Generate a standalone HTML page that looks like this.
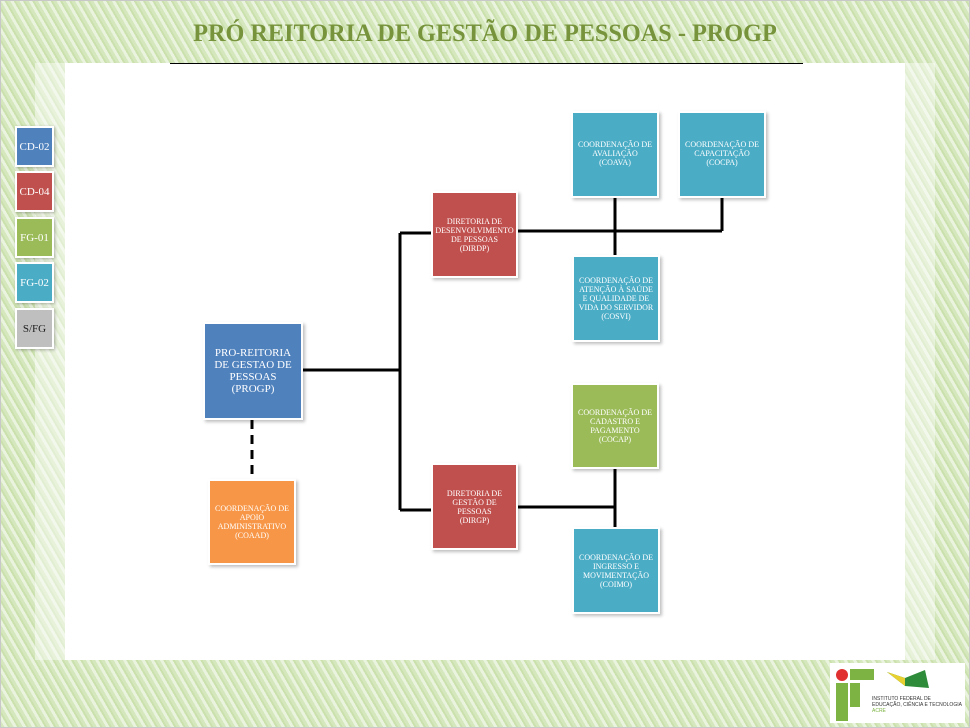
<!DOCTYPE html>
<html><head><meta charset="utf-8"><style>
body{margin:0;width:970px;height:728px;overflow:hidden;font-family:"Liberation Serif",serif;}
#bg{position:absolute;left:0;top:0;width:968px;height:726px;border:1px solid #c8c8c8;
background:repeating-linear-gradient(60deg,#d5e8bd 0 3px,#e9f3dd 3px 6px,#cbe1ad 6px 8px);}
#white{position:absolute;left:65px;top:63px;width:840px;height:597px;background:#fff;}
.fade{position:absolute;background:rgba(255,255,255,0.45);}
.b{position:absolute;color:#fff;display:flex;align-items:center;justify-content:center;text-align:center;
font-size:8px;line-height:9px;box-shadow:0 0 0 2px #fff,2px 2px 3px 2px rgba(0,0,0,0.25);box-sizing:border-box;padding:2px;}
.k{position:absolute;display:flex;align-items:center;justify-content:center;font-size:11px;color:#fff;
box-shadow:0 0 0 2px #fff,1px 1px 3px 2px rgba(0,0,0,0.3);}
.blue{background:#4f81bd}.red{background:#c0504d}.green{background:#9bbb59}.teal{background:#4bacc6}.orange{background:#f79646}
h1{position:absolute;left:0;width:970px;top:20px;margin:0;text-align:center;font-size:25px;color:#77933c;font-weight:bold;transform:scaleX(0.97);}
</style></head><body>
<div id="bg"></div>
<div class="fade" style="left:35px;top:63px;width:30px;height:597px"></div>
<div class="fade" style="left:905px;top:63px;width:30px;height:597px"></div>
<div id="white"></div>
<h1>PRÓ REITORIA DE GESTÃO DE PESSOAS - PROGP</h1>
<div style="position:absolute;left:170px;top:63px;width:633px;height:1px;background:#000"></div>
<svg style="position:absolute;left:0;top:0" width="970" height="728">
<g stroke="#000" stroke-width="3" fill="none">
<path d="M301 370H400M400 233V510M400 233H433M400 510H433M516 231H722M615 196V257M722 196V231M516 507H615M615 467V529"/>
<path d="M252 420V481" stroke-dasharray="9 6"/>
</g></svg>
<div class="k blue" style="left:17px;top:128px;width:35px;height:37px">CD-02</div>
<div class="k red" style="left:17px;top:173px;width:35px;height:37px">CD-04</div>
<div class="k green" style="left:17px;top:219px;width:35px;height:37px">FG-01</div>
<div class="k teal" style="left:17px;top:264px;width:35px;height:37px">FG-02</div>
<div class="k" style="left:17px;top:310px;width:35px;height:37px;background:#bfbfbf;color:#222">S/FG</div>
<div class="b blue" style="left:205px;top:324px;width:96px;height:94px;font-size:11px;line-height:12px">PRO-REITORIA<br>DE GESTAO DE<br>PESSOAS<br>(PROGP)</div>
<div class="b orange" style="left:210px;top:481px;width:84px;height:82px">COORDENAÇÃO DE<br>APOIO<br>ADMINISTRATIVO<br>(COAAD)</div>
<div class="b red" style="left:433px;top:193px;width:83px;height:83px">DIRETORIA DE<br>DESENVOLVIMENTO<br>DE PESSOAS<br>(DIRDP)</div>
<div class="b teal" style="left:573px;top:113px;width:84px;height:83px;align-items:flex-start;padding-top:27px">COORDENAÇÃO DE<br>AVALIAÇÃO<br>(COAVA)</div>
<div class="b teal" style="left:680px;top:113px;width:84px;height:83px;align-items:flex-start;padding-top:27px">COORDENAÇÃO DE<br>CAPACITAÇÃO<br>(COCPA)</div>
<div class="b teal" style="left:574px;top:257px;width:84px;height:83px">COORDENAÇÃO DE<br>ATENÇÃO À SAÚDE<br>E QUALIDADE DE<br>VIDA DO SERVIDOR<br>(COSVI)</div>
<div class="b green" style="left:573px;top:385px;width:84px;height:82px">COORDENAÇÃO DE<br>CADASTRO E<br>PAGAMENTO<br>(COCAP)</div>
<div class="b red" style="left:433px;top:465px;width:83px;height:83px">DIRETORIA DE<br>GESTÃO DE<br>PESSOAS<br>(DIRGP)</div>
<div class="b teal" style="left:574px;top:529px;width:84px;height:83px">COORDENAÇÃO DE<br>INGRESSO E<br>MOVIMENTAÇÃO<br>(COIMO)</div>
<div style="position:absolute;left:830px;top:663px;width:135px;height:60px;background:#fff"></div>
<div style="position:absolute;left:836px;top:669px;width:12px;height:12px;border-radius:50%;background:#e03030"></div>
<div style="position:absolute;left:850px;top:669px;width:24px;height:11px;background:#7cb342"></div>
<div style="position:absolute;left:836px;top:683px;width:12px;height:38px;background:#7cb342"></div>
<div style="position:absolute;left:850px;top:683px;width:10px;height:24px;background:#7cb342"></div>
<svg style="position:absolute;left:885px;top:668px" width="50" height="24"><polygon points="2,4 20,10 40,2 44,20 20,18" fill="#2e8b3a"/><polygon points="2,4 20,10 20,18" fill="#e8d030"/></svg>
<div style="position:absolute;left:872px;top:696px;font-family:'Liberation Sans',sans-serif;font-size:5px;line-height:6px;color:#333">INSTITUTO FEDERAL DE<br>EDUCAÇÃO, CIÊNCIA E TECNOLOGIA<br><span style="color:#7cb342">ACRE</span></div>
</body></html>
